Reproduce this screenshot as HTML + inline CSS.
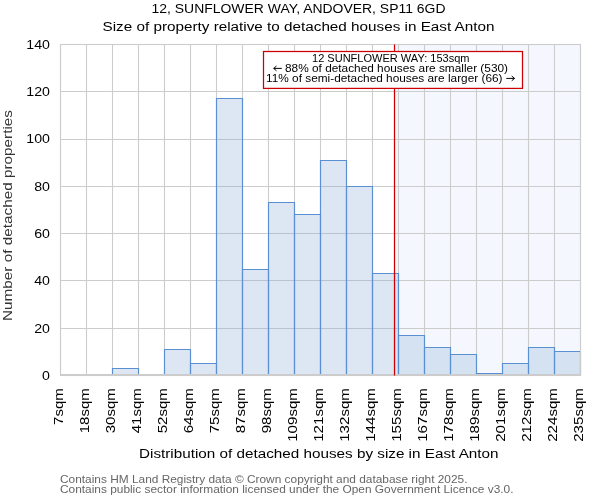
<!DOCTYPE html>
<html><head><meta charset="utf-8"><style>
html,body{margin:0;padding:0;background:#fff;width:600px;height:500px;overflow:hidden}
svg{display:block;will-change:transform}
text{font-family:"Liberation Sans", sans-serif;}
</style></head><body>
<svg width="600" height="500" viewBox="0 0 600 500">
<rect x="0" y="0" width="600" height="500" fill="#fff"/>
<rect x="394.5" y="44.5" width="186.0" height="331.0" fill="#f4f8fe"/>
<path d="M60.5 44.5V375.5 M86.5 44.5V375.5 M112.5 44.5V375.5 M138.5 44.5V375.5 M164.5 44.5V375.5 M190.5 44.5V375.5 M216.5 44.5V375.5 M242.5 44.5V375.5 M268.5 44.5V375.5 M294.5 44.5V375.5 M320.5 44.5V375.5 M346.5 44.5V375.5 M372.5 44.5V375.5 M398.5 44.5V375.5 M424.5 44.5V375.5 M450.5 44.5V375.5 M476.5 44.5V375.5 M502.5 44.5V375.5 M528.5 44.5V375.5 M554.5 44.5V375.5 M580.5 44.5V375.5 M60.5 375.5H580.5 M60.5 328.5H580.5 M60.5 280.5H580.5 M60.5 233.5H580.5 M60.5 186.5H580.5 M60.5 139.5H580.5 M60.5 91.5H580.5 M60.5 44.5H580.5" stroke="#cccccc" stroke-width="1.1" fill="none"/>
<rect x="112.5" y="368.5" width="26.0" height="7.0" fill="#8aacd6" fill-opacity="0.29"/>
<rect x="164.5" y="349.5" width="26.0" height="26.0" fill="#8aacd6" fill-opacity="0.29"/>
<rect x="190.5" y="363.5" width="26.0" height="12.0" fill="#8aacd6" fill-opacity="0.29"/>
<rect x="216.5" y="98.5" width="26.0" height="277.0" fill="#8aacd6" fill-opacity="0.29"/>
<rect x="242.5" y="269.5" width="26.0" height="106.0" fill="#8aacd6" fill-opacity="0.29"/>
<rect x="268.5" y="202.5" width="26.0" height="173.0" fill="#8aacd6" fill-opacity="0.29"/>
<rect x="294.5" y="214.5" width="26.0" height="161.0" fill="#8aacd6" fill-opacity="0.29"/>
<rect x="320.5" y="160.5" width="26.0" height="215.0" fill="#8aacd6" fill-opacity="0.29"/>
<rect x="346.5" y="186.5" width="26.0" height="189.0" fill="#8aacd6" fill-opacity="0.29"/>
<rect x="372.5" y="273.5" width="26.0" height="102.0" fill="#8aacd6" fill-opacity="0.29"/>
<rect x="398.5" y="335.5" width="26.0" height="40.0" fill="#8aacd6" fill-opacity="0.29"/>
<rect x="424.5" y="347.5" width="26.0" height="28.0" fill="#8aacd6" fill-opacity="0.29"/>
<rect x="450.5" y="354.5" width="26.0" height="21.0" fill="#8aacd6" fill-opacity="0.29"/>
<rect x="476.5" y="373.5" width="26.0" height="2.0" fill="#8aacd6" fill-opacity="0.29"/>
<rect x="502.5" y="363.5" width="26.0" height="12.0" fill="#8aacd6" fill-opacity="0.29"/>
<rect x="528.5" y="347.5" width="26.0" height="28.0" fill="#8aacd6" fill-opacity="0.29"/>
<rect x="554.5" y="351.5" width="26.0" height="24.0" fill="#8aacd6" fill-opacity="0.29"/>
<path d="M112.5 375.5V368.5H138.5V375.5" fill="none" stroke="#5b8fd4" stroke-width="1.15"/>
<path d="M164.5 375.5V349.5H190.5V375.5" fill="none" stroke="#5b8fd4" stroke-width="1.15"/>
<path d="M190.5 375.5V363.5H216.5V375.5" fill="none" stroke="#5b8fd4" stroke-width="1.15"/>
<path d="M216.5 375.5V98.5H242.5V375.5" fill="none" stroke="#5b8fd4" stroke-width="1.15"/>
<path d="M242.5 375.5V269.5H268.5V375.5" fill="none" stroke="#5b8fd4" stroke-width="1.15"/>
<path d="M268.5 375.5V202.5H294.5V375.5" fill="none" stroke="#5b8fd4" stroke-width="1.15"/>
<path d="M294.5 375.5V214.5H320.5V375.5" fill="none" stroke="#5b8fd4" stroke-width="1.15"/>
<path d="M320.5 375.5V160.5H346.5V375.5" fill="none" stroke="#5b8fd4" stroke-width="1.15"/>
<path d="M346.5 375.5V186.5H372.5V375.5" fill="none" stroke="#5b8fd4" stroke-width="1.15"/>
<path d="M372.5 375.5V273.5H398.5V375.5" fill="none" stroke="#5b8fd4" stroke-width="1.15"/>
<path d="M398.5 375.5V335.5H424.5V375.5" fill="none" stroke="#5b8fd4" stroke-width="1.15"/>
<path d="M424.5 375.5V347.5H450.5V375.5" fill="none" stroke="#5b8fd4" stroke-width="1.15"/>
<path d="M450.5 375.5V354.5H476.5V375.5" fill="none" stroke="#5b8fd4" stroke-width="1.15"/>
<path d="M476.5 375.5V373.5H502.5V375.5" fill="none" stroke="#5b8fd4" stroke-width="1.15"/>
<path d="M502.5 375.5V363.5H528.5V375.5" fill="none" stroke="#5b8fd4" stroke-width="1.15"/>
<path d="M528.5 375.5V347.5H554.5V375.5" fill="none" stroke="#5b8fd4" stroke-width="1.15"/>
<path d="M554.5 375.5V351.5H580.5V375.5" fill="none" stroke="#5b8fd4" stroke-width="1.15"/>
<rect x="60.5" y="44.5" width="520.0" height="331.0" fill="none" stroke="#cccccc" stroke-width="1.1"/>
<path d="M60.0 375H581.0" stroke="#cccccc" stroke-width="2"/>
<line x1="394.5" y1="44.5" x2="394.5" y2="375.5" stroke="#cc0000" stroke-width="1.25"/>
<rect x="263.5" y="51.5" width="259" height="36.9" fill="#fff" stroke="#cc0000" stroke-width="1.25"/>
<text x="312.0" y="61.5" font-size="10.6" fill="#000" text-anchor="start" textLength="157.5" lengthAdjust="spacingAndGlyphs">12 SUNFLOWER WAY: 153sqm</text>
<text x="285.0" y="71.7" font-size="10.6" fill="#000" text-anchor="start" textLength="223.0" lengthAdjust="spacingAndGlyphs">88% of detached houses are smaller (530)</text>
<path d="M273.7 68.4H281.8M276.5 66L273.7 68.4L276.5 70.8" stroke="#000" stroke-width="1.0" fill="none"/>
<text x="266.0" y="81.7" font-size="10.6" fill="#000" text-anchor="start" textLength="236.5" lengthAdjust="spacingAndGlyphs">11% of semi-detached houses are larger (66)</text>
<path d="M506.3 78.4H514.5M511.7 76L514.5 78.4L511.7 80.8" stroke="#000" stroke-width="1.0" fill="none"/>
<text x="151.5" y="13.0" font-size="12.3" fill="#000" text-anchor="start" textLength="294" lengthAdjust="spacingAndGlyphs">12, SUNFLOWER WAY, ANDOVER, SP11 6GD</text>
<text x="102.5" y="30.8" font-size="12.3" fill="#000" text-anchor="start" textLength="392" lengthAdjust="spacingAndGlyphs">Size of property relative to detached houses in East Anton</text>
<text x="42.11" y="379.90" font-size="12.3" fill="#000" text-anchor="start" textLength="7.89" lengthAdjust="spacingAndGlyphs">0</text>
<text x="34.23" y="332.61" font-size="12.3" fill="#000" text-anchor="start" textLength="15.77" lengthAdjust="spacingAndGlyphs">20</text>
<text x="34.23" y="285.33" font-size="12.3" fill="#000" text-anchor="start" textLength="15.77" lengthAdjust="spacingAndGlyphs">40</text>
<text x="34.23" y="238.04" font-size="12.3" fill="#000" text-anchor="start" textLength="15.77" lengthAdjust="spacingAndGlyphs">60</text>
<text x="34.23" y="190.76" font-size="12.3" fill="#000" text-anchor="start" textLength="15.77" lengthAdjust="spacingAndGlyphs">80</text>
<text x="26.34" y="143.47" font-size="12.3" fill="#000" text-anchor="start" textLength="23.66" lengthAdjust="spacingAndGlyphs">100</text>
<text x="26.34" y="96.19" font-size="12.3" fill="#000" text-anchor="start" textLength="23.66" lengthAdjust="spacingAndGlyphs">120</text>
<text x="26.34" y="48.90" font-size="12.3" fill="#000" text-anchor="start" textLength="23.66" lengthAdjust="spacingAndGlyphs">140</text>
<text transform="translate(12,321) rotate(-90)" x="0" y="0" font-size="12.3" fill="#333" textLength="211" lengthAdjust="spacingAndGlyphs">Number of detached properties</text>
<text transform="translate(63.0,388.1) rotate(-90)" x="-36.79" y="0" font-size="12.3" textLength="36.79" lengthAdjust="spacingAndGlyphs">7sqm</text>
<text transform="translate(89.0,388.1) rotate(-90)" x="-45.25" y="0" font-size="12.3" textLength="45.25" lengthAdjust="spacingAndGlyphs">18sqm</text>
<text transform="translate(115.0,388.1) rotate(-90)" x="-45.25" y="0" font-size="12.3" textLength="45.25" lengthAdjust="spacingAndGlyphs">30sqm</text>
<text transform="translate(141.0,388.1) rotate(-90)" x="-45.25" y="0" font-size="12.3" textLength="45.25" lengthAdjust="spacingAndGlyphs">41sqm</text>
<text transform="translate(167.0,388.1) rotate(-90)" x="-45.25" y="0" font-size="12.3" textLength="45.25" lengthAdjust="spacingAndGlyphs">52sqm</text>
<text transform="translate(193.0,388.1) rotate(-90)" x="-45.25" y="0" font-size="12.3" textLength="45.25" lengthAdjust="spacingAndGlyphs">64sqm</text>
<text transform="translate(219.0,388.1) rotate(-90)" x="-45.25" y="0" font-size="12.3" textLength="45.25" lengthAdjust="spacingAndGlyphs">75sqm</text>
<text transform="translate(245.0,388.1) rotate(-90)" x="-45.25" y="0" font-size="12.3" textLength="45.25" lengthAdjust="spacingAndGlyphs">87sqm</text>
<text transform="translate(271.0,388.1) rotate(-90)" x="-45.25" y="0" font-size="12.3" textLength="45.25" lengthAdjust="spacingAndGlyphs">98sqm</text>
<text transform="translate(297.0,388.1) rotate(-90)" x="-53.71" y="0" font-size="12.3" textLength="53.71" lengthAdjust="spacingAndGlyphs">109sqm</text>
<text transform="translate(323.0,388.1) rotate(-90)" x="-53.71" y="0" font-size="12.3" textLength="53.71" lengthAdjust="spacingAndGlyphs">121sqm</text>
<text transform="translate(349.0,388.1) rotate(-90)" x="-53.71" y="0" font-size="12.3" textLength="53.71" lengthAdjust="spacingAndGlyphs">132sqm</text>
<text transform="translate(375.0,388.1) rotate(-90)" x="-53.71" y="0" font-size="12.3" textLength="53.71" lengthAdjust="spacingAndGlyphs">144sqm</text>
<text transform="translate(401.0,388.1) rotate(-90)" x="-53.71" y="0" font-size="12.3" textLength="53.71" lengthAdjust="spacingAndGlyphs">155sqm</text>
<text transform="translate(427.0,388.1) rotate(-90)" x="-53.71" y="0" font-size="12.3" textLength="53.71" lengthAdjust="spacingAndGlyphs">167sqm</text>
<text transform="translate(453.0,388.1) rotate(-90)" x="-53.71" y="0" font-size="12.3" textLength="53.71" lengthAdjust="spacingAndGlyphs">178sqm</text>
<text transform="translate(479.0,388.1) rotate(-90)" x="-53.71" y="0" font-size="12.3" textLength="53.71" lengthAdjust="spacingAndGlyphs">189sqm</text>
<text transform="translate(505.0,388.1) rotate(-90)" x="-53.71" y="0" font-size="12.3" textLength="53.71" lengthAdjust="spacingAndGlyphs">201sqm</text>
<text transform="translate(531.0,388.1) rotate(-90)" x="-53.71" y="0" font-size="12.3" textLength="53.71" lengthAdjust="spacingAndGlyphs">212sqm</text>
<text transform="translate(557.0,388.1) rotate(-90)" x="-53.71" y="0" font-size="12.3" textLength="53.71" lengthAdjust="spacingAndGlyphs">224sqm</text>
<text transform="translate(583.0,388.1) rotate(-90)" x="-53.71" y="0" font-size="12.3" textLength="53.71" lengthAdjust="spacingAndGlyphs">235sqm</text>
<text x="139.0" y="458" font-size="12.5" fill="#000" text-anchor="start" textLength="359.5" lengthAdjust="spacingAndGlyphs">Distribution of detached houses by size in East Anton</text>
<text x="60.0" y="483" font-size="11.6" fill="#666" text-anchor="start" textLength="407.5" lengthAdjust="spacingAndGlyphs">Contains HM Land Registry data © Crown copyright and database right 2025.</text>
<text x="60.0" y="493" font-size="11.6" fill="#666" text-anchor="start" textLength="453.5" lengthAdjust="spacingAndGlyphs">Contains public sector information licensed under the Open Government Licence v3.0.</text>
</svg></body></html>
